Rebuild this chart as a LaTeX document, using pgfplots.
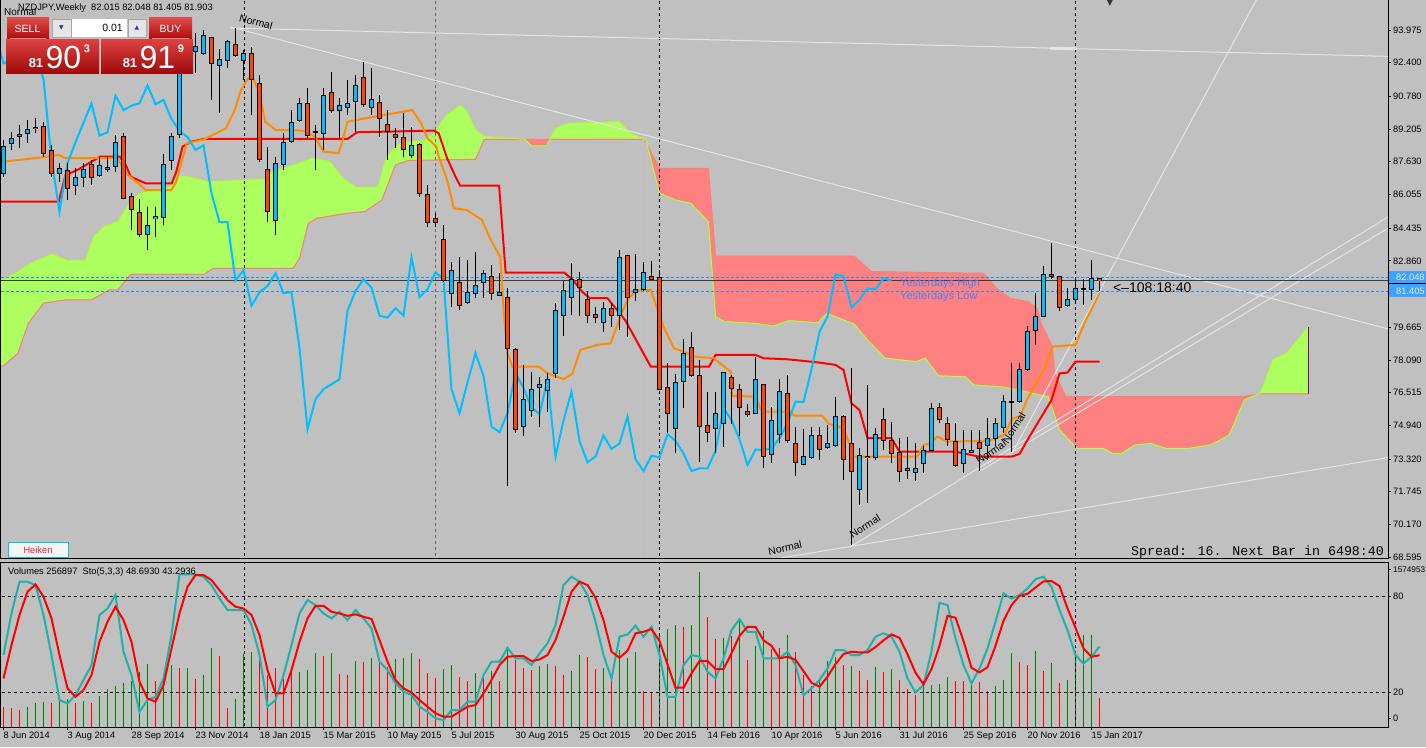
\documentclass[border=0pt]{standalone}
\usepackage{pgfplots}
\pgfplotsset{compat=1.18}
\usepackage{pgfplotstable}
\usepackage{fontspec}
\setmainfont{Liberation Sans}
\newfontfamily\monofont{Liberation Mono}
\newfontfamily\symfont{DejaVu Sans}
\newcommand\ff[1]{\fontsize{#1}{#1}\selectfont}

\definecolor{bgc}{RGB}{192,192,192}
\definecolor{upc}{RGB}{0,191,255}
\definecolor{dnc}{RGB}{255,69,0}
\definecolor{tenkan}{RGB}{255,140,0}
\definecolor{kijun}{RGB}{255,0,0}
\definecolor{chik}{RGB}{0,191,255}
\definecolor{cloudg}{RGB}{173,255,95}
\definecolor{cloudr}{RGB}{255,128,128}
\definecolor{sal}{RGB}{173,255,47}
\definecolor{sbl}{RGB}{250,128,114}
\definecolor{stk}{RGB}{32,178,170}
\definecolor{volg}{RGB}{0,128,0}
\definecolor{volr}{RGB}{255,0,0}
\definecolor{trend}{RGB}{228,228,228}
\definecolor{dblue}{RGB}{30,144,255}
\definecolor{ybl}{RGB}{70,130,255}
\definecolor{btnr}{RGB}{214,30,30}
\definecolor{btnrd}{RGB}{175,10,10}

\pgfplotsset{
  candle/.style={only marks, mark size=0pt, mark options={draw=none, fill=none}, forget plot,
    error bars/y dir=both, error bars/y explicit, error bars/error mark=none},
}

\pgfplotstableread{
i o h l c
0 87.07 88.68 86.91 88.36
1 88.49 89.08 88.20 88.76
2 88.86 89.40 88.28 88.95
3 89.00 89.64 88.52 89.19
4 89.27 89.72 89.00 89.21
5 89.32 89.56 87.88 88.04
6 88.17 88.44 86.91 87.07
7 87.07 87.59 86.67 87.32
8 87.20 87.56 85.79 86.35
9 86.48 87.32 86.03 86.88
10 86.87 87.56 86.43 87.28
11 87.51 87.72 86.51 86.87
12 86.96 87.88 86.91 87.44
13 87.27 87.88 87.15 87.35
14 87.40 88.92 87.15 88.57
15 88.84 89.00 85.82 85.87
16 85.95 86.11 84.35 85.31
17 85.20 85.82 84.03 84.11
18 84.11 85.47 83.38 84.56
19 84.88 85.47 84.03 84.99
20 84.96 88.01 84.59 87.51
21 87.67 89.00 87.23 88.84
22 88.92 92.63 88.76 92.43
23 92.43 93.49 92.05 93.25
24 92.93 93.81 91.89 93.17
25 92.82 93.98 92.77 93.73
26 93.62 93.65 90.61 92.37
27 92.27 93.05 90.00 92.53
28 92.50 93.49 92.13 93.41
29 93.30 94.06 92.69 92.76
30 92.50 93.01 91.57 92.82
31 92.85 93.17 89.88 91.60
32 91.41 91.81 87.64 87.75
33 87.27 88.36 84.75 85.23
34 84.80 87.88 84.11 87.56
35 87.51 89.00 87.23 88.57
36 88.60 90.12 88.52 89.51
37 89.64 90.69 89.56 90.44
38 90.44 91.17 88.76 88.89
39 89.08 89.40 87.23 89.05
40 89.00 91.17 88.20 90.81
41 90.97 91.97 89.96 90.12
42 90.08 90.69 88.76 90.33
43 90.25 91.57 89.88 90.44
44 90.52 91.81 89.08 91.31
45 91.68 92.45 90.28 90.40
46 90.25 92.13 89.88 90.61
47 90.49 90.85 88.84 89.69
48 89.43 90.12 87.72 89.11
49 88.92 89.24 88.28 88.82
50 88.81 89.96 87.88 88.20
51 87.91 89.32 87.80 88.42
52 88.47 88.52 85.95 86.11
53 86.06 86.51 84.51 84.72
54 84.91 85.15 84.51 84.72
55 83.87 84.59 81.86 81.91
56 81.30 82.82 80.66 82.42
57 81.84 83.06 80.50 80.69
58 80.87 82.90 80.79 81.35
59 81.27 83.27 81.06 81.65
60 81.83 82.42 81.06 82.26
61 82.10 82.66 80.98 81.30
62 81.20 82.26 81.17 81.36
63 81.11 81.54 72.02 78.65
64 78.60 78.65 74.59 74.75
65 74.88 77.85 74.43 76.20
66 75.65 77.50 75.33 76.68
67 76.77 77.25 74.88 76.92
68 76.61 77.45 75.60 77.16
69 77.42 80.85 77.21 80.45
70 80.22 81.89 79.24 81.41
71 81.11 82.74 80.26 81.97
72 81.97 82.31 80.21 81.57
73 80.98 81.43 79.89 80.22
74 80.29 80.66 79.89 80.13
75 79.90 80.87 79.45 80.58
76 80.58 80.85 79.69 80.22
77 80.22 83.39 79.53 83.03
78 83.10 83.10 79.21 81.11
79 81.35 83.19 80.93 81.49
80 81.46 82.82 81.43 82.31
81 82.13 82.87 81.94 81.97
82 82.07 82.42 76.65 76.68
83 76.76 77.96 74.56 75.52
84 74.80 77.42 73.63 77.01
85 77.05 79.08 75.76 78.41
86 78.70 79.42 77.29 77.32
87 77.35 78.09 73.19 74.88
88 74.94 76.56 74.16 74.61
89 74.80 76.56 73.60 75.52
90 75.04 77.53 73.92 77.48
91 77.25 77.37 75.01 76.73
92 76.68 76.93 74.43 75.81
93 75.60 75.96 75.36 75.47
94 75.52 78.25 75.52 77.16
95 76.89 76.89 72.87 73.44
96 73.52 75.84 73.11 75.17
97 74.48 77.16 74.11 76.56
98 76.48 77.37 74.11 74.19
99 74.08 74.88 72.50 73.16
100 73.07 74.75 73.02 73.44
101 73.39 74.85 73.31 74.45
102 74.44 74.88 73.27 73.80
103 73.88 74.96 73.79 74.07
104 73.99 76.32 73.91 75.36
105 75.36 75.44 72.31 73.30
106 74.07 77.68 69.18 72.74
107 71.83 73.83 71.11 73.48
108 73.46 76.88 71.22 73.40
109 73.38 74.80 73.27 74.51
110 75.23 75.76 73.75 74.19
111 74.23 75.08 73.11 73.59
112 73.62 74.32 72.20 72.74
113 72.76 74.40 72.34 72.87
114 72.68 74.07 72.28 72.87
115 73.08 73.95 72.66 73.71
116 73.75 76.03 73.72 75.76
117 75.81 76.03 75.04 75.20
118 75.04 75.36 73.95 74.27
119 74.14 75.04 72.95 73.03
120 73.11 74.72 72.63 73.78
121 73.62 74.72 73.59 73.75
122 74.12 74.72 72.76 73.83
123 73.99 75.28 73.27 74.32
124 74.32 75.28 73.95 75.04
125 74.84 76.40 74.56 76.08
126 76.10 77.93 73.67 76.06
127 76.08 77.93 76.00 77.64
128 77.64 79.72 77.57 79.45
129 79.50 81.30 78.81 80.17
130 80.17 82.61 80.14 82.21
131 82.21 83.73 81.99 82.11
132 82.10 82.15 80.46 80.62
133 80.69 81.54 80.65 80.98
134 80.98 82.10 80.82 81.54
135 81.52 81.99 80.73 81.49
136 81.46 82.90 80.98 82.02
137 82.015 82.048 81.405 81.903
}\ohlc

\pgfplotstableread{
x y
-0.5 87.64
0.06 87.64
5.0 87.85
6.9 87.96
7.75 87.80
14.26 87.80
15.34 87.07
17.78 86.27
21.0 86.27
21.6 86.67
22.9 88.52
25.1 88.71
27.8 89.24
28.9 90.12
29.7 91.09
30.5 91.60
31 91.81
32 90.93
32.7 89.56
34.0 89.16
37.6 89.13
38.9 88.84
40.0 88.12
41.9 88.04
42.4 88.68
43.0 89.56
45.2 89.72
51.1 90.12
52.2 89.48
53.0 88.76
54.1 88.36
54.4 87.88
55.45 86.75
56.3 85.39
57.9 85.31
59.8 84.83
60.9 83.86
62.1 83.06
62.5 80.50
63.0 78.41
63.6 77.77
66.9 77.77
68 77.45
70 77.16
71.1 77.42
72.1 78.57
74.2 78.81
75.9 78.89
77.1 80.18
78 80.98
79 81.43
80.9 81.46
81.7 80.58
82.5 79.69
83.8 78.65
85 78.49
86.3 78.25
88.8 78.17
89.8 77.85
90.9 77.53
91.1 76.36
94 76.32
94.8 75.60
98.4 75.60
98.8 75.41
102.3 75.41
103.2 75.01
105 74.80
105.7 74.08
106.3 73.43
114.2 73.43
115 73.99
115.9 74.07
116.7 74.40
118 74.16
123.2 74.20
125.1 74.48
126.1 75.28
127.1 75.36
127.9 76.16
130 77.61
131.1 78.73
134 78.81
135.1 79.85
137 81.30
}\tenkan

\pgfplotstableread{
x y
-0.5 85.71
6.9 85.71
7.75 86.99
9.27 87.24
12.09 87.88
14.53 87.88
15.34 87.43
15.9 86.91
17.78 86.59
21.03 86.59
21.6 87.15
22.39 88.36
23.47 88.60
25.1 88.73
43.0 88.73
44.2 89.05
53.8 89.13
54.4 89.00
55.45 87.80
56.5 86.91
57.08 86.48
61.95 86.48
62.77 82.29
70.1 82.29
71.2 81.94
72.3 81.38
73.3 81.06
75.5 81.06
76.0 80.82
77.7 80.01
80.9 77.77
88.2 77.77
89 78.33
94 78.33
95 78.17
98 78.12
102 77.96
104 77.85
105 77.61
106 76.00
107 75.68
108 74.32
111 74.32
112 73.67
119 73.67
122 73.43
126 73.43
127 73.56
128 74.24
131 76.16
132 77.44
133 77.48
134 78.01
137 78.01
}\kijun

\pgfplotstableread{
x y
-0.5 81.94
0 81.94
1.8 82.34
3.4 82.74
6.1 83.19
8.0 82.87
10.2 82.87
11.3 84.03
12.6 84.51
14.3 84.75
15.9 85.71
17.0 86.11
20.8 86.39
21.8 86.95
23.5 86.88
25.6 86.67
30.0 86.75
32.7 86.79
33.2 87.08
37.6 87.64
38.6 87.80
40.8 87.64
42.4 86.83
44.1 86.39
46.8 86.40
47.9 87.88
49.5 88.52
52.7 88.68
53.8 89.00
55.2 89.80
57.1 90.36
57.9 90.04
59.0 89.16
60.1 88.84
65.2 88.71
66.0 88.39
67.9 88.39
68.31 88.71
69.0 89.24
70.6 89.48
76.9 89.56
78.4 89.00
80.1 88.71
80.3 88.68
82.0 86.11
84.0 85.79
85.9 85.63
88.1 84.75
89.0 80.17
90.1 79.93
94.0 79.85
96.2 79.72
98.2 79.98
101.8 79.88
102.9 80.33
106.3 79.82
108.0 79.05
110.2 78.17
114.1 78.01
115.2 78.17
116.9 77.32
120.2 77.28
121.3 76.88
124.7 76.80
126.9 76.64
128.6 76.48
130.6 76.32
132.0 74.72
134.2 73.83
137.5 73.83
138.6 73.59
139.8 73.59
141.4 73.99
143.4 74.07
145.3 73.83
148.1 73.83
150.9 73.99
153.2 74.47
155.1 76.16
156.8 76.44
157.1 76.48
158.7 78.12
160.4 78.41
163.1 79.69
}\spanA

\pgfplotstableread{
x y
-0.5 77.80
0 77.80
1.8 78.41
3.1 79.85
5.0 80.82
7.8 80.98
11.0 80.98
13.2 81.46
14.3 81.46
15.9 82.21
25.1 82.21
26.2 82.50
36.2 82.50
37.0 82.98
38.1 84.67
39.2 84.91
43.0 85.15
45.2 85.23
47.3 85.79
49.0 87.48
50.6 87.69
59.0 87.75
60.1 88.71
65.2 88.71
68.31 88.71
80.1 88.71
82.0 87.31
88.1 87.31
89.0 83.09
106.3 83.09
108.5 82.34
122.5 82.26
124.1 81.54
125.8 81.06
128.0 80.90
129.2 80.57
129.7 79.85
131.1 78.73
131.4 77.45
132.8 76.32
154.8 76.32
156.8 76.44
157.1 76.45
163.1 76.45
}\spanB

\pgfplotstableread{
i v g
0 11 0
1 10 0
2 9 0
3 10.5 1
4 13 1
5 14 1
6 13 0
7 15 1
8 15.5 1
9 13 0
10 14.3 1
11 13 0
12 18 1
13 22 1
14 24 1
15 26 1
16 27 1
17 33 1
18 38 1
19 27 0
20 29 1
21 37 1
22 35 0
23 35 1
24 28.5 0
25 31 1
26 47.7 1
27 42.5 0
28 10 0
29 16 1
30 44 1
31 45 1
32 40 0
33 31 0
34 35 0
35 28.5 0
36 33 0
37 33 1
38 34 1
39 44.4 1
40 42.5 0
41 44.4 1
42 31.6 0
43 31 0
44 39.8 1
45 38.8 0
46 41.5 1
47 38.8 0
48 36 0
49 41 1
50 41.5 1
51 44.6 1
52 41 0
53 32 0
54 29 0
55 34.6 1
56 37.3 1
57 29.6 0
58 26.8 0
59 32 1
60 29 0
61 33.5 1
62 27.3 0
63 46.3 1
64 40 0
65 35 0
66 33.7 0
67 36.7 1
68 37.9 1
69 36.7 0
70 31 0
71 33.5 1
72 43.6 1
73 42.3 0
74 34.8 0
75 35.2 1
76 28.5 0
77 46.7 1
78 41.5 1
79 45.2 1
80 20.6 0
81 19.5 0
82 56.1 1
83 59.9 1
84 62.4 1
85 61.1 0
86 62.4 1
87 95.8 1
88 67.0 0
89 53.6 0
90 54.0 1
91 55.1 0
92 65.5 1
93 40.4 0
94 48.8 1
95 58.6 1
96 47.3 0
97 47.7 0
98 56.1 1
99 45.2 0
100 31.0 0
101 23.7 0
102 27.9 1
103 39.8 1
104 41.9 1
105 36.9 0
106 36.7 1
107 33.5 0
108 27.9 0
109 36.2 1
110 32.5 0
111 34.8 1
112 27.9 0
113 22.2 0
114 18.5 0
115 27.3 1
116 24.7 1
117 25.2 1
118 29.3 1
119 27.3 0
120 26.8 0
121 25.2 1
122 26.2 0
123 21.0 0
124 23.7 1
125 27.9 1
126 44.4 1
127 39.0 0
128 36.9 0
129 46.1 1
130 33.5 0
131 38.3 1
132 25.6 0
133 27.9 1
134 44.0 1
135 55.7 1
136 56.1 1
137 16.4 0
}\vol

\pgfplotstableread{
i k d
0 43.4 28.7
1 69.5 49.6
2 89.4 68.5
3 89.4 83.1
4 87.3 87.7
5 68.5 80.0
6 43.4 66.4
7 15.1 43.4
8 13.0 22.5
9 18.3 17.2
10 27.7 21.4
11 37.1 30.8
12 68.5 51.7
13 72.6 64.3
14 81.0 73.7
15 45.5 65.3
16 30.8 51.7
17 7.8 26.6
18 15.1 16.2
19 17.2 14.1
20 28.7 24.5
21 55.9 47.5
22 94.0 69.5
23 94.0 86.2
24 94.0 93.6
25 92.5 93.6
26 87.3 90.4
27 78.9 84.1
28 71.6 77.9
29 71.6 73.7
30 71.6 72.6
31 62.2 68.5
32 43.4 55.9
33 11.0 34.0
34 15.1 19.3
35 30.8 19.3
36 49.6 34.0
37 69.5 51.7
38 77.9 66.4
39 74.7 74.3
40 69.5 74.3
41 66.4 70.5
42 70.5 69.5
43 65.3 68.0
44 71.6 68.9
45 66.4 67.4
46 60.1 66.0
47 39.2 52.8
48 34.0 39.2
49 25.6 27.7
50 20.4 22.5
51 18.3 19.9
52 11.0 15.1
53 7.8 11.0
54 3.6 6.8
55 2.6 4.7
56 8.9 4.7
57 8.9 7.8
58 14.1 11.0
59 14.1 12.0
60 30.8 19.3
61 39.2 27.7
62 39.2 37.1
63 48.0 42.3
64 41.3 42.7
65 41.3 42.7
66 37.1 39.6
67 44.4 40.6
68 50.7 43.4
69 62.2 52.8
70 87.3 67.4
71 92.5 83.1
72 89.4 89.4
73 81.0 87.3
74 64.3 79.3
75 43.4 65.3
76 28.7 45.5
77 54.9 41.7
78 56.3 46.1
79 61.8 57.0
80 54.9 58.0
81 61.1 59.7
82 43.4 52.2
83 17.2 37.5
84 17.2 22.9
85 37.1 22.9
86 43.4 31.9
87 42.3 39.6
88 32.9 39.6
89 28.7 34.6
90 41.3 34.6
91 59.0 44.4
92 65.9 55.5
93 58.0 61.1
94 58.0 61.1
95 41.3 52.6
96 41.3 49.2
97 41.3 41.3
98 45.5 42.3
99 37.1 40.4
100 18.3 33.3
101 22.5 26.0
102 27.7 23.5
103 35.0 29.8
104 46.5 37.7
105 46.5 44.0
106 43.4 45.5
107 43.4 45.0
108 46.5 45.0
109 54.9 48.4
110 57.0 52.6
111 54.9 56.3
112 45.5 54.2
113 28.7 43.8
114 19.9 32.3
115 24.5 25.0
116 45.5 34.6
117 76.2 49.2
118 74.7 68.0
119 53.8 66.8
120 37.1 52.2
121 25.6 35.4
122 35.0 32.5
123 47.5 35.8
124 64.3 49.2
125 82.1 64.9
126 78.9 74.7
127 81.0 80.6
128 85.2 81.8
129 91.0 85.8
130 92.5 89.6
131 86.2 89.8
132 71.6 86.7
133 59.0 72.6
134 43.4 60.5
135 38.1 47.5
136 42.3 42.3
137 48.69 43.29
}\stoch

\begin{document}
\begin{tikzpicture}[x=1pt,y=1pt]
\useasboundingbox (0,0) rectangle (1426,747);
\fill[bgc] (0,0) rectangle (1426,747);

% ================= main price panel =================
\begin{axis}[
  at={(0pt,188pt)}, anchor=south west,
  scale only axis, width=1388pt, height=559pt,
  xmin=-0.4375, xmax=173.0625, ymin=68.505, ymax=95.419,
  axis on top,
  axis line style={black, line width=1pt},
  xtick=\empty,
  ytick={68.595,70.170,71.745,73.320,74.940,76.515,78.090,79.665,81.285,82.860,84.435,86.055,87.630,89.205,90.780,92.400,93.975},
  yticklabels={68.595,70.170,71.745,73.320,74.940,76.515,78.090,79.665,81.285,82.860,84.435,86.055,87.630,89.205,90.780,92.400,93.975},
  ytick pos=right, yticklabel pos=right,
  tick align=outside, major tick length=3pt,
  tick style={black, line width=0.8pt},
  yticklabel style={font=\ff{9.3}, anchor=west, inner sep=0pt, xshift=2pt},
]
% cloud: green where A above B, red where B above A
\addplot[fill=cloudg, draw=none, forget plot] table[x=x,y=y] {\spanA} \closedcycle;
\addplot[fill=bgc, draw=bgc, line width=0.7pt, forget plot] table[x=x,y=y] {\spanB} \closedcycle;
\addplot[fill=cloudr, draw=none, forget plot, restrict x to domain=65.19:68.32] table[x=x,y=y] {\spanB} \closedcycle;
\addplot[fill=bgc, draw=bgc, line width=0.7pt, forget plot, restrict x to domain=65.19:68.32] table[x=x,y=y] {\spanA} \closedcycle;
\addplot[fill=cloudr, draw=none, forget plot, restrict x to domain=80.09:156.81] table[x=x,y=y] {\spanB} \closedcycle;
\addplot[fill=bgc, draw=bgc, line width=0.7pt, forget plot, restrict x to domain=80.09:156.81] table[x=x,y=y] {\spanA} \closedcycle;
\addplot[sbl, line width=1pt] table[x=x,y=y] {\spanB};
\addplot[sal, line width=1pt] table[x=x,y=y] {\spanA};
\addplot[violet, line width=1pt] coordinates {(163.1,76.45) (163.1,79.69)};

% vertical dashed separators
\addplot[gray!80!black, line width=0.8pt, dash pattern=on 3pt off 3pt] coordinates {(54,60) (54,100)};
\addplot[black, line width=1pt, dash pattern=on 3pt off 3pt] coordinates {(30.125,60) (30.125,100)};
\addplot[black, line width=1pt, dash pattern=on 3pt off 3pt] coordinates {(82,60) (82,100)};
\addplot[black, line width=1pt, dash pattern=on 3pt off 3pt] coordinates {(134,60) (134,100)};

% trend lines
\addplot[trend, line width=1pt] coordinates {(28.375,94.07) (173.6,92.70)};
\addplot[trend, line width=3pt] coordinates {(130.8,93.10) (134.2,93.07)};
\addplot[trend, line width=1pt] coordinates {(28.375,94.12) (173.6,79.53)};
\addplot[trend, line width=1pt] coordinates {(97.1,68.55) (173.6,73.42)};
\addplot[trend, line width=1pt] coordinates {(105.96,69.11) (173.6,85.10)};
\addplot[trend, line width=1pt] coordinates {(122.0,72.72) (173.6,84.55)};
\addplot[trend, line width=1pt] coordinates {(126.05,73.58) (156.6,95.42)};

% price lines
\addplot[gray!45!black, line width=1pt] coordinates {(-1,81.903) (180,81.903)};
\addplot[dblue, line width=1pt, dash pattern=on 3pt off 2pt] coordinates {(-1,82.048) (180,82.048)};
\addplot[dblue, line width=1pt, dash pattern=on 3pt off 2pt] coordinates {(-1,81.405) (180,81.405)};

% ichimoku lines
\addplot[kijun, line width=2pt] table[x=x,y=y] {\kijun};
\addplot[tenkan, line width=2pt] table[x=x,y=y] {\tenkan};
\addplot[chik, line width=2pt] table[x expr=\thisrow{i}-26, y=c] {\ohlc};

% candles: wicks, outlines, bodies (vertical error bars)
\addplot[candle, error bars/error bar style={line width=1pt, black}]
  table[x=i, y expr={(\thisrow{h}+\thisrow{l})/2}, y error expr={(\thisrow{h}-\thisrow{l})/2}] {\ohlc};
\addplot[candle, error bars/error bar style={line width=5pt, black}]
  table[x=i, y expr={(\thisrow{o}+\thisrow{c})/2}, y error expr={abs(\thisrow{c}-\thisrow{o})/2+0.024}] {\ohlc};
\addplot[candle, error bars/error bar style={line width=3pt, upc}]
  table[x=i, y expr={(\thisrow{o}+\thisrow{c})/2}, y error expr={max((\thisrow{c}-\thisrow{o})/2-0.024,0)}] {\ohlc};
\addplot[candle, error bars/error bar style={line width=3pt, dnc}]
  table[x=i, y expr={(\thisrow{o}+\thisrow{c})/2}, y error expr={max((\thisrow{o}-\thisrow{c})/2-0.024,0)}] {\ohlc};
\end{axis}

% ================= volume / stochastic panel =================
\begin{axis}[
  at={(0pt,20pt)}, anchor=south west,
  scale only axis, width=1388pt, height=165pt,
  xmin=-0.4375, xmax=173.0625, ymin=-1.757, ymax=101.76,
  axis on top,
  axis line style={black, line width=1pt},
  xtick={0,8,...,136},
  xticklabels={8 Jun 2014,3 Aug 2014,28 Sep 2014,23 Nov 2014,18 Jan 2015,15 Mar 2015,10 May 2015,5 Jul 2015,30 Aug 2015,25 Oct 2015,20 Dec 2015,14 Feb 2016,10 Apr 2016,5 Jun 2016,31 Jul 2016,25 Sep 2016,20 Nov 2016,15 Jan 2017},
  xtick pos=bottom,
  xticklabel style={font=\ff{9.3}, anchor=north west, inner sep=0pt, yshift=-2pt},
  ytick={3.9,20,80,97.2},
  yticklabels={0,20,80,{\ff{8.2}1574953}},
  ytick pos=right, yticklabel pos=right,
  tick align=outside, major tick length=3pt,
  tick style={black, line width=0.8pt},
  yticklabel style={font=\ff{9.3}, anchor=west, inner sep=0pt, xshift=2pt},
]
\addplot[candle, error bars/error bar style={line width=1pt, volg}]
  table[x=i, y expr={(\thisrow{v}-1.76)/2}, y error expr={\thisrow{g}*(\thisrow{v}+1.76)/2}] {\vol};
\addplot[candle, error bars/error bar style={line width=1pt, volr}]
  table[x=i, y expr={(\thisrow{v}-1.76)/2}, y error expr={(1-\thisrow{g})*(\thisrow{v}+1.76)/2}] {\vol};
\addplot[black, line width=1pt, dash pattern=on 3pt off 3pt] coordinates {(-1,80) (180,80)};
\addplot[black, line width=1pt, dash pattern=on 3pt off 3pt] coordinates {(-1,20) (180,20)};
\addplot[black, line width=1pt, dash pattern=on 3pt off 3pt] coordinates {(30.125,-5) (30.125,110)};
\addplot[black, line width=1pt, dash pattern=on 3pt off 3pt] coordinates {(82,-5) (82,110)};
\addplot[black, line width=1pt, dash pattern=on 3pt off 3pt] coordinates {(134,-5) (134,110)};
\addplot[stk, line width=2pt] table[x=i, y=k] {\stoch};
\addplot[kijun, line width=2pt] table[x=i, y=d] {\stoch};
\end{axis}

% ================= overlays (text / UI) =================
\fill[dblue!85!white] (1389,747-284.5) rectangle (1426,747-271);
\fill[dblue!85!white] (1389,747-297.5) rectangle (1426,747-284.5);
\draw[black, line width=1.5pt] (1389,747-283.3) -- (1426,747-283.3);
\node[anchor=west, inner sep=0pt, text=white!85!dblue, font=\ff{9.3}] at (1396,747-277.7) {82.048};
\node[anchor=west, inner sep=0pt, text=white!85!dblue, font=\ff{9.3}] at (1396,747-291) {81.405};

\node[anchor=west, inner sep=0pt, font=\ff{9.3}] at (18,747-8.5) {NZDJPY,Weekly\ \ 82.015 82.048 81.405 81.903};
\node[anchor=west, inner sep=0pt, font=\ff{10}] at (4,747-12) {Normal};

\node[rotate=-15, font=\ff{10.5}, inner sep=0pt] at (256,747-22) {Normal};
\node[rotate=12, font=\ff{10.5}, inner sep=0pt] at (785,747-548) {Normal};
\node[rotate=32, font=\ff{10.5}, inner sep=0pt] at (865,747-526) {Normal};
\node[rotate=35, font=\ff{10.5}, inner sep=0pt] at (991,747-452) {Normal};
\node[rotate=58, font=\ff{10.5}, inner sep=0pt] at (1014,747-428) {Normal};

\node[anchor=west, inner sep=0pt, text=ybl, font=\ff{11}] at (900,747-284) {Yesterdays High};
\node[anchor=west, inner sep=0pt, text=ybl, font=\ff{11}] at (900,747-297) {Yesterdays Low};
\node[anchor=west, inner sep=0pt, font=\ff{14}] at (1113,747-288) {<--108:18:40};
\node[anchor=west, inner sep=0pt, font=\monofont\ff{13.3}] at (1131,747-552) {Spread: 16. Next Bar in 6498:40};
\node[inner sep=0pt, text=gray!40!black, font=\symfont\ff{8}] at (1110,747-3) {▼};

\node[anchor=west, inner sep=0pt, font=\ff{9.3}] at (8,747-572) {Volumes 256897\ \ Sto(5,3,3) 48.6930 43.2936};

\draw[fill=white!92!gray, draw={rgb,255:red,0;green,200;blue,210}, line width=1pt] (8,747-558) rectangle (68,747-543);
\node[text={rgb,255:red,230;green,30;blue,60}, font=\ff{9.3}, inner sep=0pt] at (38,747-550.5) {Heiken};

% one-click trading panel
\shade[top color=btnr!80!white, bottom color=btnrd] (7,747-39) rectangle (49,747-18);
\shade[top color=btnr!80!white, bottom color=btnrd] (149,747-39) rectangle (192,747-18);
\draw[red!45!white, line width=0.8pt] (10,747-38) -- (46,747-38);
\draw[red!45!white, line width=0.8pt] (152,747-38) -- (189,747-38);
\fill[gray!20] (52,747-37) rectangle (71,747-19);
\draw[gray!70] (52,747-37) rectangle (71,747-19);
\fill[white] (72,747-37) rectangle (127,747-19);
\fill[gray!20] (128,747-37) rectangle (146,747-19);
\draw[gray!70] (128,747-37) rectangle (146,747-19);
\node[text=blue!60!gray, font=\symfont\ff{6}, inner sep=0pt] at (61.5,747-28) {▼};
\node[text=blue!60!gray, font=\symfont\ff{6}, inner sep=0pt] at (137,747-28) {▲};
\node[anchor=east, inner sep=0pt, font=\ff{10.5}] at (123,747-28) {0.01};
\node[text=white, font=\ff{10.5}, inner sep=0pt] at (27.5,747-28.5) {SELL};
\node[text=white, font=\ff{10.5}, inner sep=0pt] at (170.5,747-28.5) {BUY};
\shade[top color=btnr!85!white, bottom color=btnrd!90!black] (6,747-74) rectangle (99,747-40);
\shade[top color=btnr!85!white, bottom color=btnrd!90!black] (101,747-74) rectangle (193,747-40);
\node[text=white, font=\bfseries\ff{13}, inner sep=0pt] at (36,747-63.5) {81};
\node[text=white, font=\ff{32}, inner sep=0pt] at (63.5,747-57) {90};
\node[text=white, font=\bfseries\ff{11}, inner sep=0pt] at (87,747-49) {3};
\node[text=white, font=\bfseries\ff{13}, inner sep=0pt] at (130,747-63.5) {81};
\node[text=white, font=\ff{32}, inner sep=0pt] at (157.5,747-57) {91};
\node[text=white, font=\bfseries\ff{11}, inner sep=0pt] at (181,747-49) {9};
\end{tikzpicture}
\end{document}
